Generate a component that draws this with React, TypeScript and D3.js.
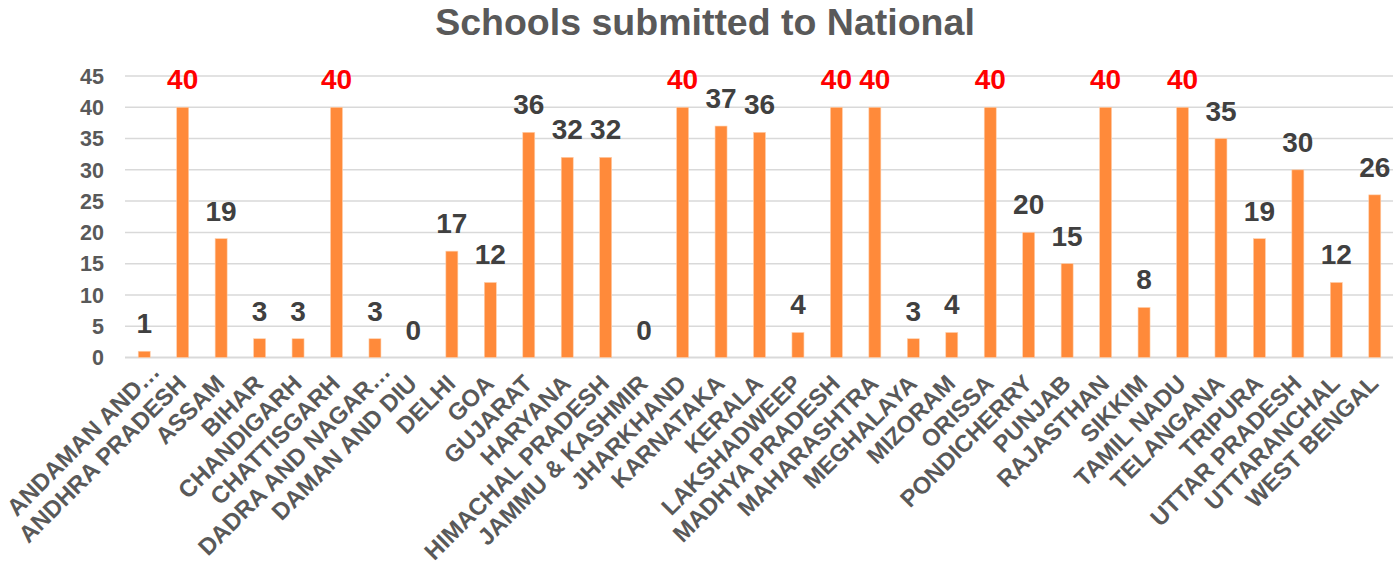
import React from "react";
import * as d3 from "d3";

const categories: string[] = [
  "ANDAMAN AND…", "ANDHRA PRADESH", "ASSAM", "BIHAR", "CHANDIGARH", "CHATTISGARH",
  "DADRA AND NAGAR…", "DAMAN AND DIU", "DELHI", "GOA", "GUJARAT", "HARYANA",
  "HIMACHAL PRADESH", "JAMMU & KASHMIR", "JHARKHAND", "KARNATAKA", "KERALA",
  "LAKSHADWEEP", "MADHYA PRADESH", "MAHARASHTRA", "MEGHALAYA", "MIZORAM", "ORISSA",
  "PONDICHERRY", "PUNJAB", "RAJASTHAN", "SIKKIM", "TAMIL NADU", "TELANGANA",
  "TRIPURA", "UTTAR PRADESH", "UTTARANCHAL", "WEST BENGAL",
];
const values: number[] = [
  1, 40, 19, 3, 3, 40, 3, 0, 17, 12, 36, 32, 32, 0, 40, 37, 36, 4, 40, 40, 3, 4, 40,
  20, 15, 40, 8, 40, 35, 19, 30, 12, 26,
];
const yTicks: number[] = [0, 5, 10, 15, 20, 25, 30, 35, 40, 45];
const title = "Schools submitted to National";

const W = 1395;
const H = 566;
const FONT = "'Liberation Sans', Arial, Helvetica, sans-serif";
const LABEL_FS = 23.8;

export default function App() {
  const x = d3
    .scaleBand<string>()
    .domain(categories)
    .range([125, 1394])
    .paddingInner(0.69)
    .paddingOuter(0.345);
  const y = d3.scaleLinear().domain([0, 45]).range([357.5, 76]);
  const bw = 12;

  return (
    <svg
      width={W}
      height={H}
      style={{ position: "absolute", left: 0, top: 0, display: "block", background: "#fff" }}
      fontFamily={FONT}
    >
      <text
        x={705}
        y={35}
        textAnchor="middle"
        fontSize={37.5}
        fontWeight="bold"
        fill="#595959"
      >
        {title}
      </text>
      {yTicks.map((t) => (
        <g key={t}>
          <line
            x1={125}
            x2={1393}
            y1={y(t)}
            y2={y(t)}
            stroke="#d9d9d9"
            strokeWidth={t === 0 ? 2 : 1.5}
          />
          <text
            x={104}
            y={y(t)}
            dy="0.36em"
            textAnchor="end"
            fontSize={21.5}
            fontWeight="bold"
            fill="#595959"
          >
            {t}
          </text>
        </g>
      ))}
      {categories.map((c, i) => {
        const cx = (x(c) as number) + x.bandwidth() / 2;
        const v = values[i];
        const top = y(v);
        // truncated labels: the ellipsis overflows past the anchor, as in the original
        const k = c.endsWith("…") ? (LABEL_FS * 0.7) / Math.SQRT2 : 0;
        return (
          <g key={c}>
            {v > 0 && (
              <rect
                x={cx - bw / 2}
                y={top}
                width={bw}
                height={y(0) - top}
                fill="#ff8a3a"
                stroke="#ffd0ad"
                strokeWidth={0.6}
              />
            )}
            <text
              x={cx}
              y={top - 18}
              textAnchor="middle"
              fontSize={28}
              fontWeight="bold"
              fill={v === 40 ? "#ff0000" : "#404040"}
            >
              {v}
            </text>
            <text
              transform={`translate(${cx + 5 + k},${385 - k}) rotate(-45)`}
              textAnchor="end"
              fontSize={LABEL_FS}
              fontWeight="bold"
              fill="#595959"
            >
              {c}
            </text>
          </g>
        );
      })}
    </svg>
  );
}
